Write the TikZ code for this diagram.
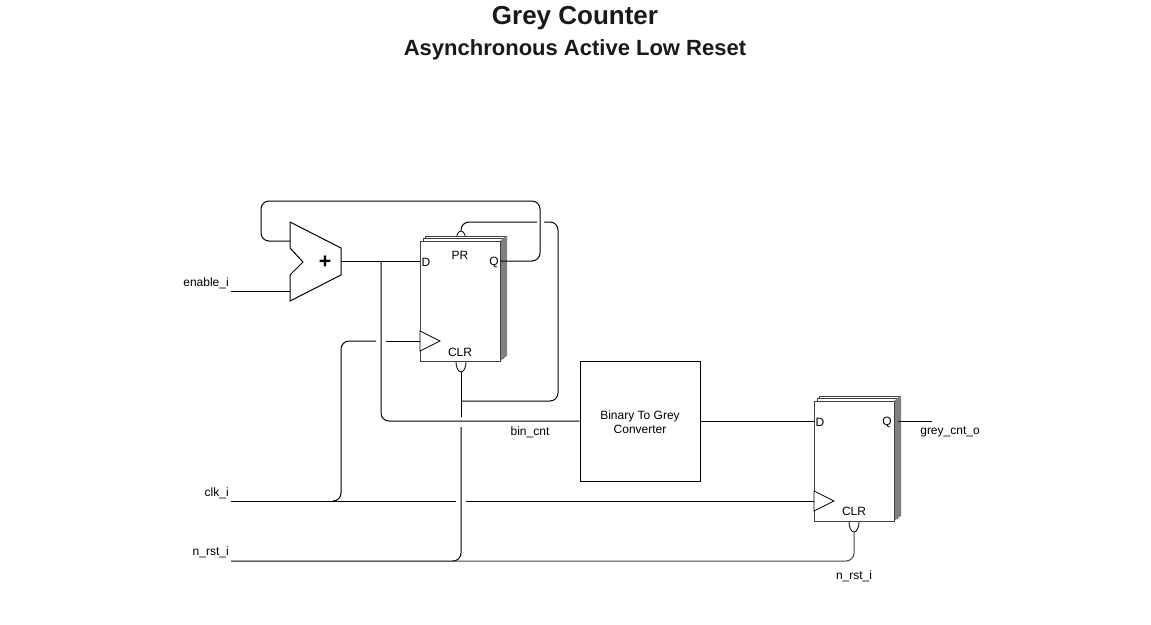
\documentclass[tikz,border=0pt]{standalone}
\usepackage{fontspec}
\setmainfont{Liberation Sans}
\usetikzlibrary{calc, positioning, shapes.geometric}
\tikzset{
  wire/.style={line width=0.75pt, rounded corners=6pt},
  ffcard/.style={draw=black!75, line width=0.75pt, fill=white, rectangle, minimum width=60pt, minimum height=90pt, inner sep=0pt, outer sep=0pt},
  lbl/.style={font=\fontsize{9}{10.5}\selectfont, inner sep=0pt},
  clkmark/.style={draw, line width=0.6pt, fill=white},
  bubble/.style={draw, line width=0.6pt, fill=white, ellipse, minimum width=7.5pt, minimum height=15pt, inner sep=0pt}
}
% stacked flip-flop: name, centre x, centre y
\newcommand{\ffstack}[3]{
  \node[ffcard] (#1c) at (#2+5,#3-5) {};
  \node[ffcard] (#1b) at (#2+3,#3-3) {};
  \fill[black!50] (#2+40,#3-60) -- (#2+46,#3-65) -- (#2+47,#3-65) -- (#2+47,#3+55) -- (#2+44,#3+57) -- (#2+40,#3+60) -- cycle;
  \node[ffcard] (#1) at (#2,#3) {};
}
\begin{document}
\begin{tikzpicture}[x=0.75pt, y=-0.75pt]
  \useasboundingbox (0,0) rectangle (1151,624);
  % titles
  \node[font=\fontsize{19.5}{22}\selectfont\bfseries, text=black!90] (title) at (575,18) {Grey Counter};
  \node[font=\fontsize{16.5}{20}\selectfont\bfseries, text=black!90] (subtitle) at (575,50) {Asynchronous Active Low Reset};
  % inputs
  \node[lbl, anchor=east] (enlbl) at (229,283) {enable\_i};
  \node[lbl, anchor=east] (clklbl) at (229,493) {clk\_i};
  \node[lbl, anchor=east] (rstlbl) at (229,552) {n\_rst\_i};
  \coordinate (enable) at (231,291);
  \coordinate (clk) at (231,501);
  \coordinate (rst) at (231,561);
  % bubbles sit behind the flip-flops
  \node[bubble] (prone) at (461,241) {};
  \node[bubble] (clrone) at (461,362) {};
  \node[bubble] (clrtwo) at (854,522) {};
  % flip-flops
  \ffstack{ffone}{460}{301}
  \ffstack{fftwo}{854}{461}
  \node[lbl] (done) at (426,262) {D};
  \node[lbl] (qone) at (494,262) {Q};
  \node[lbl] (prlbl) at (460,255) {PR};
  \node[lbl] (clronelbl) at (460,352) {CLR};
  \node[lbl] (dtwo) at (820,422) {D};
  \node[lbl] (qtwo) at (887,422) {Q};
  \node[lbl] (clrtwolbl) at (854,511) {CLR};
  \draw[clkmark] (420,331) -- (440,341) -- (420,351) -- cycle;
  \draw[clkmark] (814,491) -- (834,501) -- (814,511) -- cycle;
  % adder
  \draw[line width=0.75pt, fill=white] (290,222) -- (341,248) -- (341,275) -- (290,301) -- (290,275) -- (303,262) -- (290,248) -- cycle;
  \node[font=\fontsize{16}{16}\selectfont\bfseries, inner sep=0pt] (plus) at (325,262) {+};
  \coordinate (addout) at (341,261);
  \coordinate (addfb) at (290,241);
  \coordinate (addin) at (290,291);
  % converter
  \node[draw, line width=0.75pt, minimum width=90pt, minimum height=90pt, inner sep=0pt] (conv) at (640,421) {};
  \node[lbl, align=center] (convlbl) at (640,422) {Binary To Grey\\Converter};
  % ports
  \coordinate (dport) at (420,261);
  \coordinate (qport) at (500,261);
  \coordinate (cport) at (420,341);
  \coordinate (dtwoport) at (814,421);
  \coordinate (ctwoport) at (814,501);
  \coordinate (qtwoport) at (898,421);
  \coordinate (out) at (932,421);
  % wires
  \draw[wire] (enable) -- (addin);
  \draw[wire] (qport) -- (540,261) -- (540,201) -- (261,201) -- (261,241) -- (addfb);
  \draw[wire] (addout) -- (dport);
  \draw[wire] (381,261) -- (381,421) -- (conv.west);
  \draw[wire] (conv.east) -- (dtwoport);
  \draw[wire] (qtwoport) -- (out);
  % clock, with its jumps
  \draw[wire] (clk) -- (456,501);
  \draw[wire] (466,501) -- (ctwoport);
  \draw[wire] (333,501) -- (341,501) -- (341,341) -- (376,341);
  \draw[wire] (386,341) -- (cport);
  % reset, with its jumps
  \draw[wire] (rst) -- (461,561) -- (461,427);
  \draw[wire] (461,417) -- (clrone.south);
  \draw[wire] (461,401) -- (558,401) -- (558,222) -- (544,222);
  \draw[wire] (537,222) -- (461,222) -- (prone.north);
  \draw[wire, black!75] (452,561) -- (854,561) -- (clrtwo.south);
  % signal names
  \node[lbl] (binlbl) at (530,432) {bin\_cnt};
  \node[lbl] (greylbl) at (950,432) {grey\_cnt\_o};
  \node[lbl] (rsttwolbl) at (854,576) {n\_rst\_i};
\end{tikzpicture}
\end{document}
